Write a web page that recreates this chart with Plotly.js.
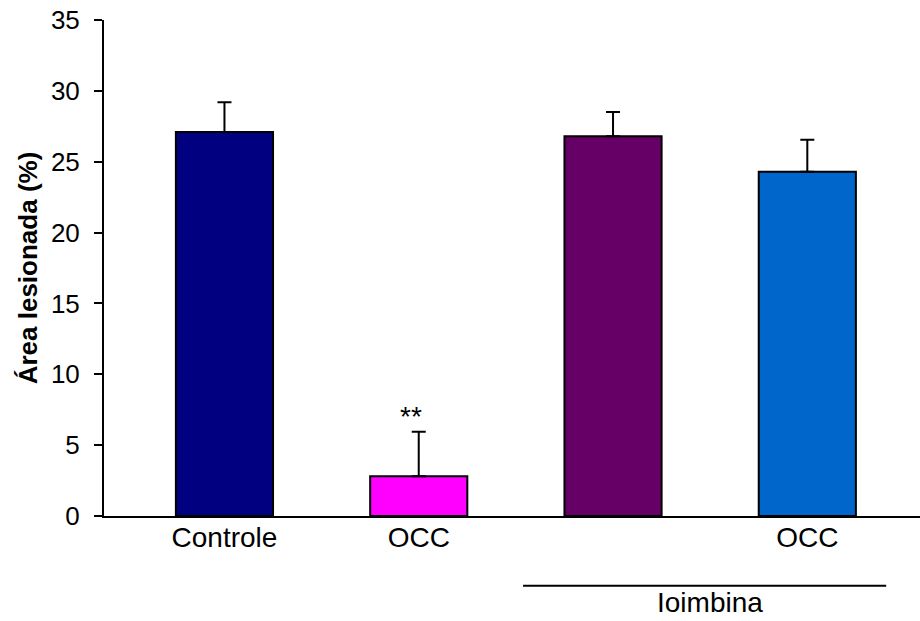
<!DOCTYPE html>
<html>
<head>
<meta charset="utf-8">
<script src="https://cdn.plot.ly/plotly-3.0.1.min.js"></script>
<style>html,body{margin:0;padding:0;background:#fff;}#chart{width:920px;height:621px;}</style>
</head>
<body>
<div id="chart"></div>
<script>
const categories = ["Controle", "OCC", "", "OCC"];
const values = [27.1, 2.8, 26.8, 24.3];
const errors = [2.1, 3.15, 1.7, 2.25];
const colors = ["#000080", "#FF00FF", "#660066", "#0066CC"];
const yTicks = [0, 5, 10, 15, 20, 25, 30, 35];
const groupLabel = "Ioimbina";
const sigMark = "**";

const xIdx = categories.map((c, i) => i);
const FONT = "Liberation Sans, Arial, sans-serif";

const trace = {
  type: "bar",
  x: xIdx,
  y: values,
  width: 0.5,
  marker: { color: colors, line: { color: "#000", width: 2 } },
  error_y: {
    type: "data", symmetric: false, array: errors,
    arrayminus: errors.map(() => 0),
    color: "#000", thickness: 2, width: 7
  },
  hoverinfo: "none"
};

const layout = {
  width: 920, height: 621,
  margin: { l: 104, r: 0, t: 20, b: 105 },
  paper_bgcolor: "#fff", plot_bgcolor: "#fff",
  showlegend: false,
  font: { family: FONT, color: "#000" },
  xaxis: {
    range: [-0.62, 3.58],
    tickvals: xIdx, ticktext: categories,
    ticks: "", showgrid: false, zeroline: false,
    ticklabelstandoff: -5,
    showline: true, linecolor: "#000", linewidth: 2,
    tickfont: { size: 28, family: FONT, color: "#000" }
  },
  yaxis: {
    range: [0, 35], tickvals: yTicks,
    ticks: "outside", ticklen: 8, tickwidth: 2, tickcolor: "#000",
    ticklabelstandoff: 9,
    showgrid: false, zeroline: false,
    showline: true, linecolor: "#000", linewidth: 2,
    tickfont: { size: 26, family: FONT, color: "#000" },
    title: { text: "<b>Área lesionada (%)</b>", font: { size: 26, family: FONT, color: "#000" }, standoff: 6 }
  },
  shapes: [{
    type: "line", xref: "x", yref: "paper",
    x0: 1.537, x1: 3.406, y0: -0.1405, y1: -0.1405,
    line: { color: "#000", width: 2 }
  }],
  annotations: [
    { text: sigMark, xref: "x", yref: "y", x: 0.96, y: 7.0, showarrow: false,
      font: { size: 28, family: FONT, color: "#000" }, yanchor: "middle" },
    { text: groupLabel, xref: "x", yref: "paper", x: 2.5, y: -0.1754, showarrow: false,
      font: { size: 28, family: FONT, color: "#000" }, yanchor: "middle" }
  ]
};

Plotly.newPlot("chart", [trace], layout, { displayModeBar: false, staticPlot: true });
</script>
</body>
</html>
